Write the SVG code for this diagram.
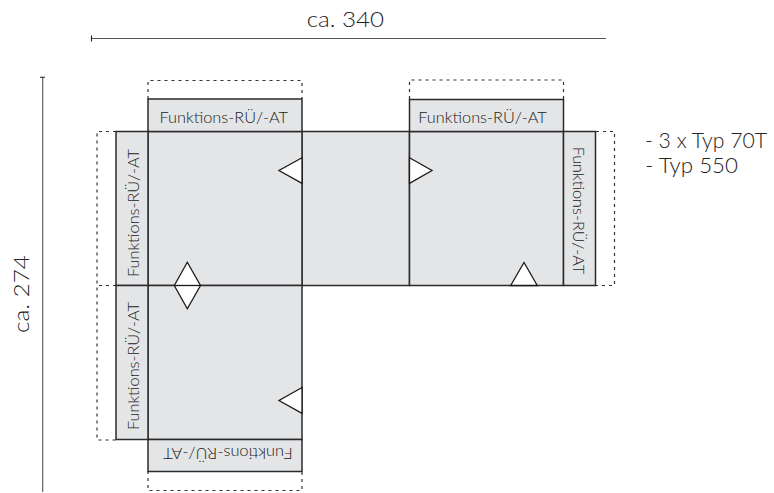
<svg xmlns="http://www.w3.org/2000/svg" width="774" height="493" viewBox="0 0 774 493">
<style>
.p{fill:#e4e5e7;stroke:#2b2b2b;stroke-width:1.5}
.d{fill:none;stroke:#333;stroke-width:1.2;stroke-dasharray:3 4}
.m{fill:#fff;stroke:#1a1a1a;stroke-width:1.3}
.dim{fill:none;stroke:#555;stroke-width:1.1}
.tick{fill:none;stroke:#222;stroke-width:1.1}
text{font-family:"Lato","Liberation Sans",Arial,sans-serif;font-weight:300;fill:#222}
.l{font-size:15px;text-anchor:start}
.b{font-size:21px}
</style>
<rect width="774" height="493" fill="#fff"/>
<g id="dimensions">
<path class="dim" d="M91.500 38.500H606M42.700 77V492"/>
<path class="tick" d="M91.500 35.500V41.500M40 77.300H45"/>
<text class="b" x="306.700" y="27.300" textLength="77.300" lengthAdjust="spacingAndGlyphs">ca. 340</text>
<text class="b" transform="translate(29 333) rotate(-90)" textLength="78" lengthAdjust="spacingAndGlyphs">ca. 274</text>
</g>
<g id="dashed-outlines">
<path class="d" d="M148 99V80.500H302V99"/>
<path class="d" d="M409.500 99V80H563.500V99"/>
<path class="d" d="M116 131.500H97V285.500H116"/>
<path class="d" d="M116 285.500H97V440H116"/>
<path class="d" d="M148 471V490.500H302V471"/>
<path class="d" d="M596 131.500H614.500V285.500H596"/>
</g>
<g id="center-panel"><rect class="p" x="302" y="131.500" width="107.500" height="154"/></g>
<g id="panel-top-left"><rect class="p" x="148" y="131.500" width="154" height="154"/></g>
<g id="panel-right"><rect class="p" x="409.500" y="131.500" width="154" height="154"/></g>
<g id="panel-bottom-left"><rect class="p" x="148" y="285.500" width="154" height="154"/></g>
<g id="flap-top-left"><rect class="p" x="148" y="99" width="154" height="32.500"/>
<text class="l" x="159.500" y="122.500" textLength="128.500" lengthAdjust="spacingAndGlyphs">Funktions-RÜ/-AT</text></g>
<g id="flap-top-right"><rect class="p" x="409.500" y="99.500" width="154" height="32"/>
<text class="l" x="418.300" y="122.500" textLength="128.500" lengthAdjust="spacingAndGlyphs">Funktions-RÜ/-AT</text></g>
<g id="flap-left-upper"><rect class="p" x="116" y="131.500" width="32" height="154"/>
<text class="l" transform="translate(138.500 277) rotate(-90)" textLength="128" lengthAdjust="spacingAndGlyphs">Funktions-RÜ/-AT</text></g>
<g id="flap-left-lower"><rect class="p" x="116" y="285.500" width="32" height="154"/>
<text class="l" transform="translate(138.500 430) rotate(-90)" textLength="128" lengthAdjust="spacingAndGlyphs">Funktions-RÜ/-AT</text></g>
<g id="flap-right"><rect class="p" x="563.500" y="131.500" width="32" height="154"/>
<text class="l" transform="translate(573 146.700) rotate(90)" textLength="127.500" lengthAdjust="spacingAndGlyphs">Funktions-RÜ/-AT</text></g>
<g id="flap-bottom"><rect class="p" x="148" y="439.500" width="154" height="32"/>
<text class="l" transform="translate(292.700 448) rotate(180)" textLength="129.500" lengthAdjust="spacingAndGlyphs">Funktions-RÜ/-AT</text></g>
<g id="markers">
<path class="m" d="M302 157.700L279 170.500L302 183.300Z"/>
<path class="m" d="M409.500 157.700L432 170.500L409.500 183.300Z"/>
<path class="m" d="M510.700 285.500L524 262.500L537.300 285.500Z"/>
<path class="m" d="M302 387.500L279 400.500L302 413.300Z"/>
<path class="m" d="M174.300 285.500L187.300 262.300L200.500 285.500L187.300 308.700Z"/>
<path class="m" d="M174.300 285.500H200.500"/>
</g>
<g id="notes">
<text class="b" x="645" y="148.300" textLength="122" lengthAdjust="spacingAndGlyphs">- 3 x Typ 70T</text>
<text class="b" x="645" y="173.300" textLength="93" lengthAdjust="spacingAndGlyphs">- Typ 550</text>
</g>
</svg>
